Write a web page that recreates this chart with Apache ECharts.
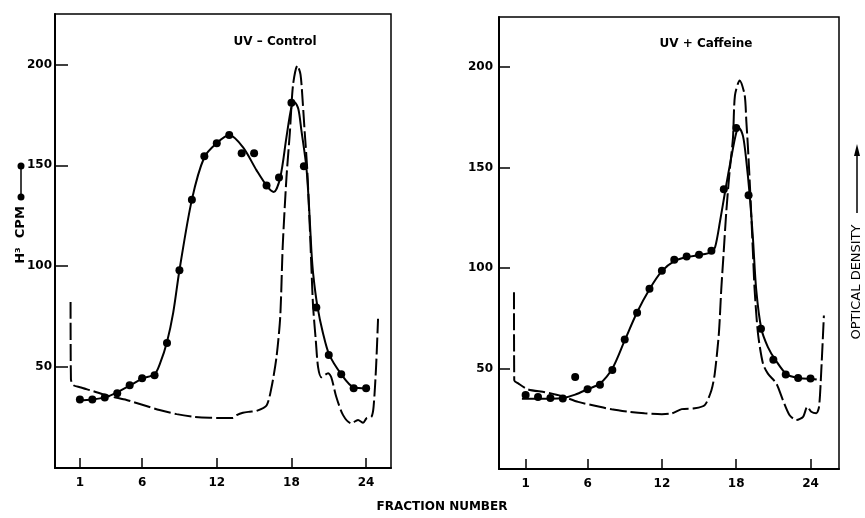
<!DOCTYPE html>
<html>
<head>
<meta charset="utf-8">
<script src="https://cdn.jsdelivr.net/npm/echarts@6/dist/echarts.min.js"></script>
<style>html,body{margin:0;padding:0;background:#fff}#c{width:865px;height:518px}</style>
</head>
<body>
<div id="c"></div>
<script>
// ---- Data ----
const fractions = [1,2,3,4,5,6,7,8,9,10,11,12,13,14,15,16,17,18,19,20,21,22,23,24];
const xTickValues = [1,6,12,18,24];
const yTickValues = [50,100,150,200];

// H3 CPM measured points
const cpmControl  = [34,34,35,37,41,44.5,46,62,98,133,154.5,161,165,156,156,140,144,181,149.5,79.5,56,46.5,39.5,39.5];
const cpmCaffeine = [36.8,35.8,35.3,35.1,45.8,39.7,42,49.3,64.5,77.8,89.7,98.7,104.2,105.8,106.7,108.6,139.2,169.8,136.3,69.8,54.4,47,45.3,45];

// hand-drawn smooth CPM curves (traced)
const cpmCurveControl = [[0.9,33.5],[2,34],[3,35],[4,37.5],[5,40.8],[6,44.3],[7,46.5],[7.45,52],[8,62.5],[8.5,77],[9,98],[10,133],[11,154],[12,161],[13,165],[14.1,159],[15.2,147.5],[16.08,139.3],[16.58,136.8],[17.1,144],[17.6,164],[18.0,178.8],[18.25,181.3],[18.55,178],[18.8,167.3],[19.2,149],[19.42,129],[19.6,108],[19.75,96],[20.09,80],[20.54,66.7],[21.03,56.3],[22,46.5],[23,40],[24,39.5]];
const cpmCurveCaffeine = [[0.7,35],[2,35],[3,35],[4,35.3],[5,37],[6,39.7],[7,42.5],[8,50],[9,64],[10,78],[11,89.5],[12,98.5],[13,103.5],[14,105.5],[15,106.5],[16,108],[16.3,110.5],[16.7,123.5],[17.13,139],[17.6,155],[18,167.3],[18.23,169.8],[18.55,165.7],[18.82,153.3],[19.09,136.3],[19.35,115],[19.62,89],[20.03,69.8],[20.56,60.7],[21.16,54.4],[22.1,47],[23.1,45.3],[24.2,44.8],[24.5,44.5]];

// optical density traces (dashed)
const odControl = [[0.25,82.3],[0.28,44],[0.46,41.1],[1,40],[2.07,38.1],[3.4,35.6],[4.75,33.7],[6.08,31.2],[7.4,28.7],[8.77,26.7],[10.1,25.4],[11.44,24.9],[12.8,24.8],[13.3,24.8],[13.6,26.2],[14.1,27.4],[14.65,27.9],[15.2,28.3],[16,31],[16.4,40],[16.8,55],[17.1,75],[17.3,110],[17.6,144],[17.87,166],[18.13,190],[18.48,199.5],[18.73,195],[18.9,182],[19.07,166],[19.26,149],[19.47,120],[19.6,100],[19.74,80],[19.96,63],[20.14,50],[20.41,45],[20.95,47],[21.2,45],[21.6,35.3],[22.15,26.2],[22.8,22.1],[23.35,23.8],[23.76,22.4],[24.03,24.6],[24.43,25.4],[24.6,30.3],[24.8,50],[24.96,74]];
const odCaffeine = [[0.06,88],[0.08,44.2],[0.4,42.6],[1.2,39.6],[2.56,38.2],[3.9,36.3],[5.24,33.4],[6.6,31.5],[7.94,29.7],[9.27,28.5],[10.6,27.7],[12,27.3],[12.8,27.7],[13.6,29.8],[14.65,30.2],[15.46,31.8],[16,39.2],[16.27,47.5],[16.6,67.4],[16.8,90],[16.97,106],[17.2,128],[17.47,148.3],[17.74,164.8],[17.9,186],[18.28,193.4],[18.68,186.3],[18.82,173],[18.95,160],[19.14,137],[19.35,108],[19.49,89],[19.76,67.4],[20.16,52.5],[20.56,47.5],[21.24,42.6],[21.77,34.3],[22.3,26.9],[22.85,24.4],[23.4,26],[23.74,31],[24.06,28.5],[24.47,27.7],[24.69,31],[24.87,49],[25.08,76.4]];

// ---- Chart ----
const FONT = '"DejaVu Sans", sans-serif';
const chart = echarts.init(document.getElementById('c'));

function xAx(idx, min, max) {
  return {
    gridIndex: idx, type: 'value', min: min, max: max,
    splitLine: {show: false},
    axisLine: {show: true, onZero: false, lineStyle: {color: '#000', width: 2}},
    axisTick: {show: true, inside: true, length: 10, customValues: xTickValues, lineStyle: {color: '#000', width: 1.5}},
    axisLabel: {customValues: xTickValues, color: '#000', fontFamily: FONT, fontWeight: 'bold', fontSize: 12, margin: 9}
  };
}
function yAx(idx, tickLen, margin) {
  return {
    gridIndex: idx, type: 'value', min: 0, max: 225, interval: 50,
    splitLine: {show: false},
    axisLine: {show: true, onZero: false, lineStyle: {color: '#000', width: 2}},
    axisTick: {show: true, inside: true, length: tickLen, customValues: yTickValues, lineStyle: {color: '#000', width: 1.5}},
    axisLabel: {customValues: yTickValues, color: '#000', fontFamily: FONT, fontWeight: 'bold', fontSize: 12, margin: margin}
  };
}
function pairs(xs, ys) { return xs.map((x, i) => [x, ys[i]]); }

const solid = {color: '#000', width: 2};
const dashed = {color: '#000', width: 2, type: [17, 4]};
const dot = {color: '#000', opacity: 1};

chart.setOption({
  animation: false,
  backgroundColor: '#fff',
  grid: [
    {left: 55, top: 14, width: 336, height: 454, show: true, borderColor: '#000', borderWidth: 1.5},
    {left: 499, top: 17, width: 340, height: 452, show: true, borderColor: '#000', borderWidth: 1.5}
  ],
  xAxis: [xAx(0, -1, 26), xAx(1, -1.15, 26.3)],
  yAxis: [yAx(0, 13, 3), yAx(1, 11, 6)],
  series: [
    {type: 'line', xAxisIndex: 0, yAxisIndex: 0, data: odControl, smooth: 0.25, showSymbol: false, lineStyle: dashed},
    {type: 'line', xAxisIndex: 0, yAxisIndex: 0, data: cpmCurveControl, smooth: 0.3, showSymbol: false, lineStyle: solid},
    {type: 'scatter', xAxisIndex: 0, yAxisIndex: 0, data: pairs(fractions, cpmControl), symbolSize: 8, itemStyle: dot},
    {type: 'line', xAxisIndex: 1, yAxisIndex: 1, data: odCaffeine, smooth: 0.25, showSymbol: false, lineStyle: dashed},
    {type: 'line', xAxisIndex: 1, yAxisIndex: 1, data: cpmCurveCaffeine, smooth: 0.3, showSymbol: false, lineStyle: solid},
    {type: 'scatter', xAxisIndex: 1, yAxisIndex: 1, data: pairs(fractions, cpmCaffeine), symbolSize: 8, itemStyle: dot}
  ],
  graphic: [
    {type: 'text', x: 275, y: 42, style: {text: 'UV – Control', fill: '#000', font: 'bold 12px ' + FONT, align: 'center', verticalAlign: 'middle'}},
    {type: 'text', x: 706, y: 44, style: {text: 'UV + Caffeine', fill: '#000', font: 'bold 12px ' + FONT, align: 'center', verticalAlign: 'middle'}},
    {type: 'text', x: 442, y: 507, style: {text: 'FRACTION NUMBER', fill: '#000', font: 'bold 12px ' + FONT, align: 'center', verticalAlign: 'middle'}},
    {type: 'text', x: 21, y: 235, rotation: Math.PI / 2, style: {text: 'H³  CPM', fill: '#000', font: 'bold 13px ' + FONT, align: 'center', verticalAlign: 'middle'}},
    {type: 'line', shape: {x1: 21, y1: 166, x2: 21, y2: 197}, style: {stroke: '#000', lineWidth: 1.5}},
    {type: 'circle', shape: {cx: 21, cy: 166, r: 3.5}, style: {fill: '#000'}},
    {type: 'circle', shape: {cx: 21, cy: 197, r: 3.5}, style: {fill: '#000'}},
    {type: 'text', x: 857, y: 282, rotation: Math.PI / 2, style: {text: 'OPTICAL DENSITY', fill: '#000', font: '13px ' + FONT, align: 'center', verticalAlign: 'middle'}},
    {type: 'line', shape: {x1: 857, y1: 213, x2: 857, y2: 152}, style: {stroke: '#000', lineWidth: 1.5}},
    {type: 'polygon', shape: {points: [[857, 144], [854, 156], [860, 156]]}, style: {fill: '#000'}}
  ]
});
</script>
</body>
</html>
